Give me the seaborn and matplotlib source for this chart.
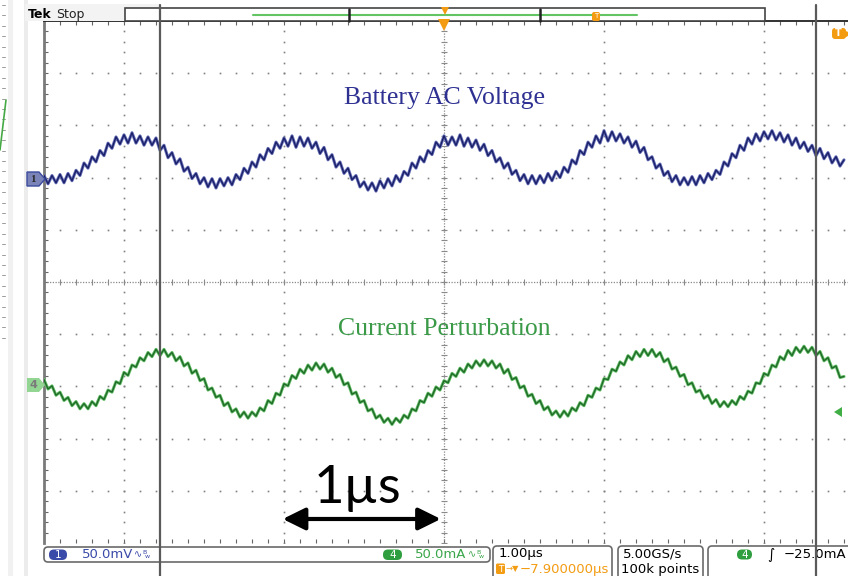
import numpy as np
import pandas as pd
import matplotlib
matplotlib.use("Agg")
import matplotlib.pyplot as plt
import seaborn as sns
from matplotlib.patches import FancyBboxPatch, Rectangle, Polygon

time_start_us = -2.5
time_end_us = 2.5

# Channel 1: battery AC voltage, mV relative to channel-1 ground marker
battery_ac_mv = [
    3, -5, 3, -4, 4, -4, 5, -2, 8, 3,
    15, 10, 21, 16, 27, 22, 34, 29, 40, 33,
    42, 34, 44, 34, 41, 32, 40, 32, 39, 27,
    32, 20, 25, 14, 19, 7, 11, 0, 5, -5,
    1, -8, 0, -9, 0, -7, 1, -6, 4, -1,
    10, 5, 16, 11, 23, 18, 29, 24, 35, 29,
    39, 31, 41, 30, 40, 31, 39, 29, 35, 24,
    30, 18, 23, 11, 16, 5, 10, -1, 3, -8,
    -3, -11, -4, -12, -2, -9, 0, -7, 3, -3,
    7, 3, 15, 10, 21, 16, 27, 23, 35, 30,
    41, 32, 40, 32, 42, 31, 39, 30, 37, 27,
    33, 22, 27, 16, 20, 10, 15, 4, 8, -2,
    4, -5, 3, -5, 3, -4, 5, -2, 7, 1,
    11, 6, 18, 14, 27, 23, 35, 30, 41, 34,
    46, 36, 45, 36, 43, 34, 40, 30, 36, 25,
    30, 18, 21, 10, 14, 3, 7, -3, 3, -6,
    1, -6, 2, -6, 3, -4, 5, -1, 8, 4,
    16, 12, 24, 20, 32, 27, 39, 33, 43, 36,
    45, 38, 46, 37, 44, 35, 42, 32, 39, 29,
    35, 26, 32, 22, 29, 19, 25, 15, 21, 12,
    18,
]

# Channel 4: current perturbation, mA relative to channel-4 ground marker
current_pert_ma = [
    5, -4, -1, -10, -7, -15, -12, -20, -16, -23,
    -18, -23, -16, -20, -11, -14, -5, -7, 3, 1,
    12, 9, 19, 17, 26, 23, 31, 27, 34, 28,
    34, 27, 31, 23, 27, 18, 21, 11, 14, 4,
    6, -5, -3, -12, -10, -20, -17, -26, -23, -31,
    -26, -32, -26, -30, -22, -25, -15, -18, -8, -10,
    1, -1, 9, 6, 15, 11, 19, 14, 21, 15,
    20, 12, 16, 7, 10, 0, 2, -9, -7, -17,
    -15, -25, -23, -32, -29, -36, -32, -38, -32, -36,
    -29, -32, -23, -25, -15, -17, -8, -11, -2, -5,
    4, 2, 11, 8, 16, 12, 20, 16, 23, 18,
    24, 18, 23, 16, 20, 11, 15, 5, 7, -3,
    -1, -11, -9, -18, -15, -24, -21, -29, -25, -31,
    -25, -30, -22, -25, -17, -20, -10, -12, -3, -5,
    6, 5, 15, 13, 22, 19, 28, 24, 32, 27,
    34, 28, 34, 27, 31, 22, 25, 15, 17, 8,
    10, 0, 2, -7, -5, -13, -10, -18, -14, -21,
    -16, -21, -15, -19, -11, -14, -6, -8, 2, 1,
    11, 9, 19, 17, 27, 24, 33, 28, 36, 31,
    37, 31, 36, 28, 32, 23, 26, 16, 18, 7,
    8,
]

trace_titles = ["Battery AC Voltage", "Current Perturbation"]
ch1_mv_per_div = 50.0
ch4_ma_per_div = 50.0
ch1_offset_div = 1.98
ch4_offset_div = -1.97
cursor_times_us = [-1.775, 2.325]
scale_bar_us = [-1.0, 0.0]
scale_bar_label = "1\u00b5s"
ch1_label = "50.0mV"
ch4_label = "50.0mA"
timebase_label = "1.00\u00b5s"
trigger_pos_label = "\u22127.900000\u00b5s"
sample_rate_label = "5.00GS/s"
record_label = "100k points"
trigger_level_label = "\u221225.0mA"

time_us = np.linspace(time_start_us, time_end_us, len(battery_ac_mv))
df = pd.DataFrame({
    "t": time_us,
    "ch1": np.array(battery_ac_mv) / ch1_mv_per_div + ch1_offset_div,
    "ch4": np.array(current_pert_ma) / ch4_ma_per_div + ch4_offset_div,
})

# ---------------- style ----------------
sns.set_theme(style="white")
plt.rcParams["font.family"] = ["DejaVu Sans"]

W, H = 848, 576
fig = plt.figure(figsize=(W / 100, H / 100), dpi=100)
fig.patch.set_facecolor("white")

L, R, T, B = 44, 848, 21, 543
PX_PER_US = 160.0
ax = fig.add_axes([L / W, 1 - B / H, (R - L) / W, (B - T) / H])
ax.set_facecolor("white")
ax.set_xlim(-2.5, -2.5 + (R - L) / PX_PER_US)
ax.set_ylim(-5, 5)

for s in ["right", "bottom"]:
    ax.spines[s].set_visible(False)
ax.spines["top"].set_color("#222222")
ax.spines["top"].set_linewidth(1.3)
ax.spines["left"].set_color("#7a7a7a")
ax.spines["left"].set_linewidth(2.0)
ax.set_xticks([])
ax.set_yticks([])
ax.set_xticks(np.arange(-2.4, 2.55, 0.1), minor=True)
ax.set_yticks(np.arange(-4.8, 4.9, 0.2), minor=True)
ax.tick_params(which="minor", direction="in", length=3, width=0.8, color="#666666",
               top=True, bottom=True, left=True, right=False,
               labelbottom=False, labelleft=False, labeltop=False)

# graticule dots
dot_y = np.arange(-5, 5.001, 0.2)
for gt in [-2, -1, 1, 2]:
    ax.plot(np.full_like(dot_y, gt), dot_y, ls="none", marker="s", ms=1.2,
            mew=0, color="#808080", zorder=1)
dot_t = np.arange(-2.5, 2.55, 0.1)
for gy in [-4, -3, -2, -1, 1, 2, 3, 4]:
    ax.plot(dot_t, np.full_like(dot_t, gy), ls="none", marker="s", ms=1.2,
            mew=0, color="#808080", zorder=1)
# center crosshair
ax.axhline(0, ls=(0, (1, 1.2)), lw=0.9, color="#8a8a8a", zorder=1)
ax.axvline(0, ls=(0, (1, 1.2)), lw=0.9, color="#8a8a8a", zorder=1)
ax.plot(dot_t, np.zeros_like(dot_t), ls="none", marker="|", ms=5, mew=0.8,
        color="#8a8a8a", zorder=1)
ax.plot(np.zeros_like(dot_y), dot_y, ls="none", marker="_", ms=5, mew=0.8,
        color="#8a8a8a", zorder=1)

# traces (light persistence halo + dark core)
sns.lineplot(data=df, x="t", y="ch1", ax=ax, color="#6670b8", lw=2.2,
             estimator=None, sort=False, zorder=3)
sns.lineplot(data=df, x="t", y="ch1", ax=ax, color="#1c2068", lw=1.0,
             estimator=None, sort=False, zorder=4)
sns.lineplot(data=df, x="t", y="ch4", ax=ax, color="#66c06a", lw=2.2,
             estimator=None, sort=False, zorder=3)
sns.lineplot(data=df, x="t", y="ch4", ax=ax, color="#1f6a28", lw=1.0,
             estimator=None, sort=False, zorder=4)
ax.set_xlabel("")
ax.set_ylabel("")

# trace titles
ax.text(0.006, 3.52, trace_titles[0], ha="center", va="center", fontsize=18.5,
        family=["Liberation Serif"], color="#2e3192", zorder=6)
ax.text(0.0, -0.90, trace_titles[1], ha="center", va="center", fontsize=18.5,
        family=["Liberation Serif"], color="#3a9a48", zorder=6)

# 1 us scale bar
ax.annotate("", xy=(scale_bar_us[1] - 0.02, -4.54), xytext=(scale_bar_us[0] - 0.008, -4.54),
            arrowprops=dict(arrowstyle="<|-|>,head_length=0.85,head_width=0.42",
                            lw=3, color="black", mutation_scale=16,
                            shrinkA=0, shrinkB=0), zorder=6)
ax.text((scale_bar_us[0] + scale_bar_us[1]) / 2 - 0.04, -3.95, scale_bar_label,
        ha="center", va="center", fontsize=38, family=["Lato", "DejaVu Sans"],
        color="black", zorder=6)

# ---------------- overlay (scope screen furniture) ----------------
ov = fig.add_axes([0, 0, 1, 1], zorder=5)
ov.set_xlim(0, W)
ov.set_ylim(H, 0)
ov.axis("off")
ov.patch.set_alpha(0)

def rbox(x0, y0, x1, y1, ec="#6a6a6a", fc="white", r=4, lw=1.2, z=2):
    ov.add_patch(FancyBboxPatch((x0, y0), x1 - x0, y1 - y0,
                                boxstyle=f"round,pad=0,rounding_size={r}",
                                ec=ec, fc=fc, lw=lw, zorder=z))

# left strips of neighbouring window
ov.add_patch(Rectangle((8, 0), 5, H, fc="#f1f1f1", ec="none", zorder=0))
ov.add_patch(Rectangle((24, 0), 4, H, fc="#ececec", ec="none", zorder=0))
for yy in np.arange(5, 340, 10.4):
    ov.plot([2, 5], [yy, yy], color="#9a9a9a", lw=0.7, zorder=1)
ov.plot([6, 3, 0], [100, 125, 150], color="#45aa45", lw=1.2, zorder=1)

# top status area
ov.add_patch(Rectangle((25, 4), 135, 17, fc="#f3f3f3", ec="none", zorder=0))
ov.text(28, 14.5, "Tek", fontsize=9, fontweight="bold", va="center", color="black")
ov.text(56, 14.5, "Stop", fontsize=9, va="center", color="#222222")
ov.add_patch(Rectangle((125, 8), 640, 13, fc="white", ec="#444444", lw=1.2, zorder=2))
ov.plot([253, 637], [14.5, 14.5], color="#62c462", lw=1.5, zorder=3)
for bx in [349, 540]:
    ov.plot([bx, bx], [8.5, 21], color="#222222", lw=1.8, zorder=3)
ov.plot([445], [10.5], marker="v", ms=6, color="#f39c12", mew=0, zorder=4)
rbox(592, 12, 600, 21, ec="none", fc="#f39c12", r=2, z=4)
ov.text(596, 16.5, "T", fontsize=5, color="white", ha="center", va="center", zorder=5)
ov.plot([444], [25], marker="v", ms=8, color="#f39c12", mew=0, zorder=4)
rbox(832, 28, 846, 39, ec="none", fc="#f39c12", r=3, z=4)
ov.text(838, 33.5, "T", fontsize=7, fontweight="bold", color="white", ha="center",
        va="center", zorder=5)
ov.plot([848], [33.5], marker=">", ms=6, color="#f39c12", mew=0, zorder=4)

# cursors
for ct in cursor_times_us:
    cx = 444 + ct * PX_PER_US
    ov.plot([cx, cx], [5, H], color="#5a5a5a", lw=1.6, zorder=6)

# channel markers
ov.add_patch(Polygon([(27, 172), (39, 172), (45, 179), (39, 186), (27, 186)],
                     closed=True, fc="#7b84b8", ec="#3b4a9e", lw=1.0, zorder=4))
ov.text(33, 179.5, "1", fontsize=8, color="#2a2a2a", ha="center", va="center",
        family=["Liberation Serif"], fontweight="bold", zorder=5)
ov.add_patch(Polygon([(27, 378), (39, 378), (45, 385), (39, 392), (27, 392)],
                     closed=True, fc="#93d593", ec="none", zorder=4))
ov.text(33, 385.5, "4", fontsize=8, color="#7a7a7a", ha="center", va="center",
        fontweight="bold", zorder=5)
ov.add_patch(Polygon([(834, 412), (842, 407), (842, 417)], closed=True,
                     fc="#3fae45", ec="none", zorder=4))

# bottom readout boxes
rbox(44, 547, 490, 562)
rbox(49, 549.5, 67, 560, ec="none", fc="#3a4aa8", r=5, z=3)
ov.text(58, 555, "1", fontsize=7.5, color="white", ha="center", va="center", zorder=4)
ov.text(82, 555, ch1_label, fontsize=9.5, color="#3a4aa8", va="center", zorder=4)
ov.text(134, 554, "\u223f", fontsize=7, color="#3a4aa8", va="center", zorder=4)
ov.text(142, 553, "B", fontsize=4.5, color="#3a4aa8", va="center", zorder=4)
ov.text(145, 557, "w", fontsize=4.5, color="#3a4aa8", va="center", zorder=4)
rbox(383, 549.5, 402, 560, ec="none", fc="#2e9e3e", r=5, z=3)
ov.text(392.5, 555, "4", fontsize=7.5, color="white", ha="center", va="center", zorder=4)
ov.text(415, 555, ch4_label, fontsize=9.5, color="#3aa64a", va="center", zorder=4)
ov.text(468, 554, "\u223f", fontsize=7, color="#3aa64a", va="center", zorder=4)
ov.text(476, 553, "B", fontsize=4.5, color="#3aa64a", va="center", zorder=4)
ov.text(479, 557, "w", fontsize=4.5, color="#3aa64a", va="center", zorder=4)

rbox(493, 546, 612, 582)
ov.text(499, 554, timebase_label, fontsize=9.5, color="black", va="center", zorder=4)
rbox(496, 563.5, 505, 574, ec="none", fc="#f39c12", r=1.5, z=3)
ov.text(500.5, 569, "T", fontsize=6.5, color="white", ha="center", va="center", zorder=4)
ov.text(506, 569, "\u2192\u25bc", fontsize=6, color="#f39c12", va="center", zorder=4)
ov.text(520, 569, trigger_pos_label, fontsize=9.5, color="#f39c12", va="center", zorder=4)

rbox(618, 546, 703, 582)
ov.text(623, 554, sample_rate_label, fontsize=9.5, color="black", va="center", zorder=4)
ov.text(621, 569, record_label, fontsize=9.5, color="black", va="center", zorder=4)

rbox(708, 546, 870, 582)
rbox(737, 549.5, 752, 559.5, ec="none", fc="#2e9e3e", r=5, z=3)
ov.text(744.5, 554.5, "4", fontsize=7.5, color="white", ha="center", va="center", zorder=4)
ov.text(767, 554.5, "\u222b", fontsize=10, color="black", va="center", zorder=4)
ov.text(784, 554.5, trigger_level_label, fontsize=9.5, color="black", va="center", zorder=4)

fig.savefig("out.png", dpi=100, facecolor="white")
